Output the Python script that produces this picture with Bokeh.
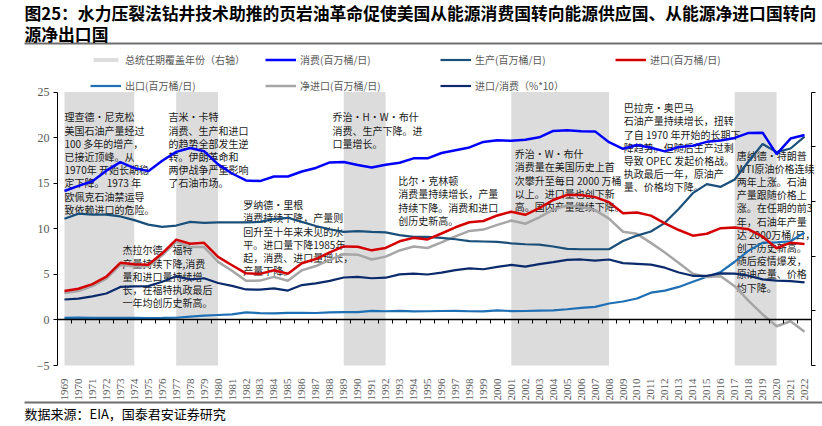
import math

from bokeh.plotting import figure
from bokeh.models import (Range1d, LinearAxis, FixedTicker, Label, Legend,
                          LegendItem)
from bokeh.embed import file_html
from bokeh.resources import INLINE

years = list(range(1969, 2023))

consumption = [14.14, 14.70, 15.21, 16.37, 17.31, 16.65, 16.32, 17.46, 18.43, 18.85,
               18.51, 17.06, 16.06, 15.30, 15.23, 15.73, 15.73, 16.28, 16.67, 17.28,
               17.33, 16.99, 16.71, 17.03, 17.24, 17.72, 17.72, 18.31, 18.62, 18.92,
               19.52, 19.70, 19.65, 19.76, 20.03, 20.73, 20.80, 20.69, 20.68, 19.50,
               18.77, 19.18, 18.88, 18.49, 18.97, 19.11, 19.53, 19.69, 19.96, 20.51,
               20.54, 18.19, 19.89, 20.28]
production = [11.10, 11.65, 11.55, 11.55, 11.35, 10.95, 10.45, 10.20, 10.35, 10.75,
              10.65, 10.70, 10.70, 10.70, 10.75, 11.05, 11.20, 10.75, 10.30, 9.95,
              9.65, 9.75, 9.65, 9.60, 9.30, 9.10, 9.10, 9.00, 8.85, 8.65,
              8.60, 8.55, 8.40, 8.30, 8.25, 8.05, 7.80, 7.75, 7.75, 7.75,
              8.65, 9.25, 9.70, 10.65, 12.20, 13.90, 14.90, 14.60, 15.40, 17.40,
              19.30, 18.40, 18.80, 20.10]
imports = [3.17, 3.42, 3.93, 4.74, 6.26, 6.11, 6.06, 7.31, 8.81, 8.36,
           8.46, 6.91, 6.00, 5.11, 5.05, 5.44, 5.07, 6.22, 6.68, 7.40,
           8.06, 8.02, 7.63, 7.89, 8.62, 9.00, 8.83, 9.48, 10.16, 10.71,
           10.85, 11.46, 11.87, 11.53, 12.26, 13.15, 13.71, 13.71, 13.47, 12.92,
           11.69, 11.79, 11.44, 10.60, 9.86, 9.24, 9.45, 10.06, 10.14, 9.94,
           9.14, 7.86, 8.47, 8.33]
exports = [0.23, 0.26, 0.22, 0.22, 0.23, 0.22, 0.21, 0.22, 0.24, 0.36,
           0.47, 0.54, 0.60, 0.82, 0.74, 0.72, 0.78, 0.78, 0.76, 0.82,
           0.86, 0.86, 1.00, 0.95, 1.00, 0.94, 0.95, 0.98, 1.00, 0.95,
           0.94, 1.04, 0.97, 0.98, 1.03, 1.05, 1.17, 1.32, 1.43, 1.80,
           2.02, 2.35, 2.99, 3.21, 3.62, 4.18, 4.74, 5.26, 6.38, 7.60,
           8.47, 8.51, 8.63, 9.58]
net_imports = [2.94, 3.16, 3.70, 4.52, 6.03, 5.89, 5.85, 7.09, 8.56, 8.00,
               7.99, 6.37, 5.40, 4.30, 4.31, 4.72, 4.29, 5.44, 5.91, 6.59,
               7.20, 7.16, 6.63, 6.94, 7.62, 8.05, 7.89, 8.50, 9.16, 9.76,
               9.91, 10.42, 10.90, 10.55, 11.24, 12.10, 12.55, 12.39, 12.04, 11.11,
               9.67, 9.44, 8.45, 7.39, 6.24, 5.07, 4.71, 4.80, 3.70, 2.10,
               0.60, -0.70, -0.15, -1.30]
import_share = [2.24, 2.33, 2.58, 2.90, 3.62, 3.67, 3.71, 4.19, 4.78, 4.44,
                4.57, 4.05, 3.74, 3.34, 3.32, 3.46, 3.22, 3.82, 4.01, 4.28,
                4.65, 4.72, 4.57, 4.63, 5.00, 5.08, 4.98, 5.18, 5.46, 5.66,
                5.56, 5.82, 6.04, 5.84, 6.12, 6.34, 6.59, 6.63, 6.51, 6.63,
                6.23, 6.15, 6.06, 5.73, 5.20, 4.84, 4.84, 5.11, 5.08, 4.85,
                4.45, 4.32, 4.26, 4.11]

# presidential terms shaded on the right axis
term_start = [1969, 1977, 1989, 2001, 2017]
term_end = [1974, 1980, 1992, 2008, 2020]

left_ticks = [-5, 0, 5, 10, 15, 20, 25]
right_ticks = [0, 0.2, 0.4, 0.6, 0.8, 1.0]

notes = [
    "理查德·尼克松\n美国石油产量经过\n100 多年的增产，\n已接近顶峰。从\n1970年 开始长期稳\n定下降。 1973 年\n欧佩克石油禁运导\n致依赖进口的危险。",
    "吉米·卡特\n消费、生产和进口\n的趋势全部发生逆\n转。伊朗革命和\n两伊战争严重影响\n了石油市场。",
    "杰拉尔德·福特\n产量持续下降,消费\n量和进口量持续增\n长，在福特执政最后\n一年均创历史新高。",
    "罗纳德·里根\n消费持续下降，产量则\n回升至十年来未见的水\n平。进口量下降1985年\n起，消费、进口量增长，\n产量下降。",
    "乔治·H·W·布什\n消费、生产下降。进\n口量增长。",
    "比尔·克林顿\n消费量持续增长，产量\n持续下降。消费和进口\n创历史新高。",
    "乔治·W·布什\n消费量在美国历史上首\n次攀升至每日 2000 万桶\n以上。进口量也创下新\n高。国内产量继续下降。",
    "巴拉克·奥巴马\n石油产量持续增长，扭转\n了自 1970 年开始的长期下\n降趋势。但随后生产过剩\n导致 OPEC 发起价格战。\n执政最后一年，原油产\n量、价格均下降。",
    "唐纳德·特朗普\nWTI原油价格连续\n两年上涨。石油\n产量跟随价格上\n涨。在任期的前3\n年，石油年产量\n达 2000万桶/日，\n创下历史新高。\n随后疫情爆发，\n原油产量、价格\n均下降。",
]
note_x = [1969.0, 1976.45, 1973.15, 1981.8, 1988.2, 1992.9, 2001.25, 2009.05, 2017.15]
note_y = [23.1, 23.1, 8.5, 13.45, 23.1, 16.1, 19.05, 24.1, 18.9]

CJK = "Noto Sans CJK SC"
SERIF = "Liberation Serif"
GREY = "#595959"

W, H = 822, 426
# plot box in page pixels: 1968.5..2022.5 across 57..811, 25..-5 across 91.5..365


def fx(px):
    return 1968.5 + (px - 57) * 54 / 754


def fy(py):
    return 25 - (py - 91.5) * 30 / 273.5


def fr(py):
    return 1 - (py - 91.5) / 273.5


p = figure(width=W, height=H, output_backend="svg", toolbar_location=None,
           x_range=Range1d(fx(0), fx(W)), y_range=Range1d(fy(H), fy(0)),
           min_border=0)
p.extra_y_ranges = {"right": Range1d(fr(H), fr(0))}
p.outline_line_color = None
p.grid.visible = False

bands = p.quad(left=term_start, right=term_end, bottom=0, top=1,
               y_range_name="right", fill_color="#DCDCDC", line_color=None,
               level="image")

r_exp = p.line(years, exports, color="#1F6FB4", line_width=2.2)
r_net = p.line(years, net_imports, color="#A6A6A6", line_width=2.5)
r_share = p.line(years, import_share, color="#0B2A6B", line_width=2.2)
r_prod = p.line(years, production, color="#1A4F7A", line_width=2.2)
r_imp = p.line(years, imports, color="#D40000", line_width=2.5)
r_cons = p.line(years, consumption, color="#0000FF", line_width=2.5)

# year labels under the plot box
xa = p.xaxis[0]
xa.fixed_location = -5
xa.bounds = (1968.5, 2022.5)
xa.ticker = FixedTicker(ticks=years)
xa.major_label_orientation = math.pi / 2
xa.axis_line_color = None
xa.major_tick_line_color = None
xa.minor_tick_line_color = None
xa.major_label_standoff = 7
xa.major_label_text_font = SERIF
xa.major_label_text_font_size = "11px"
xa.major_label_text_color = GREY

# zero line with ticks between the years
zero_axis = LinearAxis(fixed_location=0, bounds=(1968.5, 2022.5),
                       ticker=FixedTicker(ticks=[], minor_ticks=[y + 0.5 for y in years[:-1]]),
                       minor_tick_in=0, minor_tick_out=4,
                       minor_tick_line_color="black", minor_tick_line_width=1,
                       axis_line_width=1.5)
p.add_layout(zero_axis, "below")

# grey rules under the title and above the source line
for rule_y in [43, 402]:
    p.add_layout(LinearAxis(fixed_location=fy(rule_y), bounds=(fx(24), fx(W)),
                            ticker=FixedTicker(ticks=[]),
                            major_tick_line_color=None, minor_tick_line_color=None,
                            axis_line_color="#6E6E6E", axis_line_width=2), "below")

ya = p.yaxis[0]
ya.fixed_location = 1968.5
ya.bounds = (-5, 25)
ya.ticker = FixedTicker(ticks=left_ticks)
ya.major_tick_in = 0
ya.major_tick_out = 4
ya.minor_tick_line_color = None
ya.major_label_standoff = 4
ya.major_label_text_font = SERIF
ya.major_label_text_font_size = "12px"
ya.major_label_text_color = GREY

ra = LinearAxis(y_range_name="right", fixed_location=2022.5, bounds=(0, 1),
                ticker=FixedTicker(ticks=[], minor_ticks=right_ticks),
                minor_tick_in=0, minor_tick_out=4, minor_tick_line_color="black")
p.add_layout(ra, "right")

legend = Legend(items=[
    LegendItem(label="总统任期覆盖年份（右轴）", renderers=[bands]),
    LegendItem(label="消费(百万桶/日)", renderers=[r_cons]),
    LegendItem(label="生产(百万桶/日)", renderers=[r_prod]),
    LegendItem(label="进口(百万桶/日)", renderers=[r_imp]),
    LegendItem(label="出口(百万桶/日)", renderers=[r_exp]),
    LegendItem(label="净进口(百万桶/日)", renderers=[r_net]),
    LegendItem(label="进口/消费（%*10）", renderers=[r_share]),
], location=(90, 333), orientation="horizontal", ncols=4,
    glyph_width=31, glyph_height=5, label_height=12, label_width=129,
    label_standoff=4, spacing=11, padding=0, margin=0,
    border_line_color=None, background_fill_alpha=0,
    label_text_font=CJK, label_text_font_size="10px", label_text_color=GREY)
p.add_layout(legend)

for txt, nx, ny in zip(notes, note_x, note_y):
    p.add_layout(Label(x=nx, y=ny, text=txt, text_baseline="top", text_align="left",
                       text_font=CJK, text_font_size="10px", text_color="#1a1a1a",
                       text_line_height=0.88, level="underlay"))

# title and source
p.add_layout(Label(x=fx(24), y=fy(12),
                   text="图25：水力压裂法钻井技术助推的页岩油革命促使美国从能源消费国转向能源供应国、从能源净进口国转向",
                   text_baseline="middle", text_font=CJK, text_font_style="bold",
                   text_font_size="16.8px", text_color="#000000"))
p.add_layout(Label(x=fx(24), y=fy(33), text="源净出口国", text_baseline="middle",
                   text_font=CJK, text_font_style="bold", text_font_size="16.8px",
                   text_color="#000000"))
p.add_layout(Label(x=fx(24), y=fy(413), text="数据来源：EIA，国泰君安证券研究",
                   text_baseline="middle", text_font=CJK, text_font_size="13px",
                   text_color="#000000"))

open("out.html", "w").write(file_html(p, INLINE))
